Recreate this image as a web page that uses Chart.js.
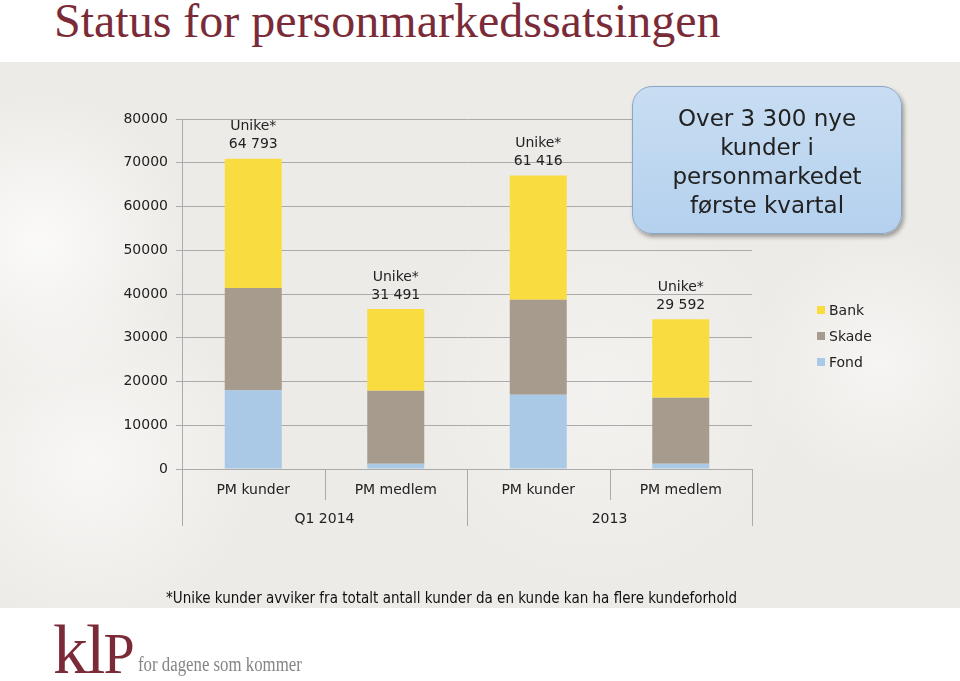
<!DOCTYPE html>
<html>
<head>
<meta charset="utf-8">
<script src="https://cdn.jsdelivr.net/npm/chart.js@4.4.1/dist/chart.umd.min.js"></script>
<style>
  html, body { margin: 0; padding: 0; }
  body { width: 960px; height: 681px; position: relative; overflow: hidden; background: #fff; font-family: "DejaVu Sans", sans-serif; }
  #band {
    position: absolute; left: 0; top: 62px; width: 960px; height: 546px;
    background:
      radial-gradient(circle at 40px 180px, rgba(255,255,255,0.75) 0, rgba(255,255,255,0.0) 150px),
      radial-gradient(circle at 90px 400px, rgba(255,255,255,0.6) 0, rgba(255,255,255,0.0) 170px),
      radial-gradient(circle at 880px 300px, rgba(255,255,255,0.5) 0, rgba(255,255,255,0.0) 130px),
      radial-gradient(circle at 600px 330px, rgba(255,255,255,0.35) 0, rgba(255,255,255,0.0) 200px),
      #edebe7;
  }
  #title {
    position: absolute; left: 54px; top: -7px; margin: 0;
    font-family: "Liberation Serif", serif; font-weight: normal; font-size: 48px;
    color: #7a2b37; white-space: nowrap;
  }
  canvas { position: absolute; left: 0; top: 0; }
  #callout {
    position: absolute; left: 632px; top: 86px; width: 270px; height: 148px;
    box-sizing: border-box; border-radius: 20px;
    background: linear-gradient(#c8ddf2, #b5d1ee);
    border: 1.5px solid #8aa6c6;
    box-shadow: 2px 3px 4px rgba(0,0,0,0.35);
    text-align: center; font-size: 23px; line-height: 29px; color: #222;
    padding-top: 17px;
  }
  #legend { position: absolute; left: 817px; top: 300px; font-size: 14px; color: #222; }
  #legend div { height: 26px; line-height: 20px; white-space: nowrap; }
  #legend span { display: inline-block; width: 8px; height: 8px; margin-right: 4px; vertical-align: 1px; }
  #note {
    position: absolute; left: 0; width: 903px; top: 589px; text-align: center;
    font-family: "DejaVu Sans Condensed", "DejaVu Sans", sans-serif; font-stretch: condensed;
    font-size: 15px; color: #111; white-space: nowrap;
  }
  .logo { position: absolute; font-family: "Liberation Serif", serif; line-height: 1; white-space: nowrap; }
  #klp { left: 53px; top: 606px; font-size: 70px; color: #7a2b37; letter-spacing: -2px; }
  #klp .p { font-variant: small-caps; font-size: 80px; }
  #tag { left: 138px; top: 654px; font-size: 20px; color: #858585; transform: scaleX(0.84); transform-origin: left; }
</style>
</head>
<body>
<div id="band"></div>
<h1 id="title">Status for personmarkedssatsingen</h1>
<canvas id="chart" width="960" height="681"></canvas>
<div id="callout">Over 3 300 nye<br>kunder i<br>personmarkedet<br>første kvartal</div>
<div id="legend"></div>
<div id="note">*Unike kunder avviker fra totalt antall kunder da en kunde kan ha flere kundeforhold</div>
<div class="logo" id="klp">kl<span class="p">p</span></div>
<div class="logo" id="tag">for dagene som kommer</div>
<script>
const categories = ['PM kunder', 'PM medlem', 'PM kunder', 'PM medlem'];
const groups = ['Q1 2014', '2013'];
const fond = [18000, 1200, 17000, 1200];
const skade = [23400, 16700, 21700, 15100];
const bank = [29500, 18650, 28400, 17950];
const unike = ['64 793', '31 491', '61 416', '29 592'];
const yTicks = [0, 10000, 20000, 30000, 40000, 50000, 60000, 70000, 80000];

const colors = { Fond: '#a9c9e6', Skade: '#a79b8d', Bank: '#f8dc40' };

const datasets = [
  { label: 'Fond', data: fond, backgroundColor: colors.Fond },
  { label: 'Skade', data: skade, backgroundColor: colors.Skade },
  { label: 'Bank', data: bank, backgroundColor: colors.Bank }
];

// legend, top to bottom like the original
const legendEl = document.getElementById('legend');
datasets.slice().reverse().forEach(d => {
  const row = document.createElement('div');
  row.innerHTML = '<span style="background:' + d.backgroundColor + '"></span>' + d.label;
  legendEl.appendChild(row);
});

const labelFont = '14px "DejaVu Sans", sans-serif';

const unikePlugin = {
  id: 'unike',
  afterDatasetsDraw(chart) {
    const ctx = chart.ctx;
    const meta = chart.getDatasetMeta(chart.data.datasets.length - 1);
    ctx.save();
    ctx.font = labelFont;
    ctx.fillStyle = '#222';
    ctx.textAlign = 'center';
    ctx.textBaseline = 'middle';
    meta.data.forEach((bar, i) => {
      ctx.fillText(unike[i], bar.x, bar.y - 14);
      ctx.fillText('Unike*', bar.x, bar.y - 32);
    });
    ctx.restore();
  }
};

// separators between category labels and groups under the x axis
const separatorPlugin = {
  id: 'separators',
  afterDraw(chart) {
    const x = chart.scales.x;
    const ctx = chart.ctx;
    const bottom = chart.chartArea.bottom;
    const n = categories.length;
    const per = n / groups.length;
    ctx.save();
    ctx.strokeStyle = '#aaaaaa';
    ctx.lineWidth = 1;
    for (let i = 0; i <= n; i++) {
      let px;
      if (i === 0) px = chart.chartArea.left;
      else if (i === n) px = chart.chartArea.right;
      else px = (x.getPixelForTick(i - 1) + x.getPixelForTick(i)) / 2;
      const len = (i % per === 0) ? 57 : 31;
      ctx.beginPath();
      ctx.moveTo(Math.round(px) + 0.5, bottom);
      ctx.lineTo(Math.round(px) + 0.5, bottom + len);
      ctx.stroke();
    }
    ctx.restore();
  }
};

new Chart(document.getElementById('chart').getContext('2d'), {
  type: 'bar',
  data: { labels: categories, datasets: datasets },
  options: {
    responsive: false,
    animation: false,
    layout: { padding: { left: 0, right: 208, top: 119, bottom: 140 } },
    datasets: { bar: { barPercentage: 0.4, categoryPercentage: 1.0 } },
    scales: {
      x: {
        stacked: true,
        grid: { display: false },
        border: { display: false },
        ticks: { color: '#222', font: { family: 'DejaVu Sans', size: 14 }, padding: 5, maxRotation: 0 },
        afterFit: s => { s.height = 34; }
      },
      x2: {
        type: 'category',
        labels: groups,
        position: 'bottom',
        grid: { display: false },
        border: { display: false },
        ticks: { color: '#222', font: { family: 'DejaVu Sans', size: 14 }, padding: 0, maxRotation: 0 },
        afterFit: s => { s.height = 38; }
      },
      y: {
        stacked: true,
        min: 0,
        max: 80000,
        afterBuildTicks: s => { s.ticks = yTicks.map(v => ({ value: v })); },
        grid: { color: '#ababab', lineWidth: 1, tickLength: 6 },
        border: { color: '#ababab' },
        ticks: { color: '#222', font: { family: 'DejaVu Sans', size: 14 }, padding: 8, callback: v => String(v) },
        afterFit: s => { s.width = 182; }
      }
    },
    plugins: {
      legend: { display: false },
      tooltip: { enabled: false }
    }
  },
  plugins: [unikePlugin, separatorPlugin]
});
</script>
</body>
</html>
